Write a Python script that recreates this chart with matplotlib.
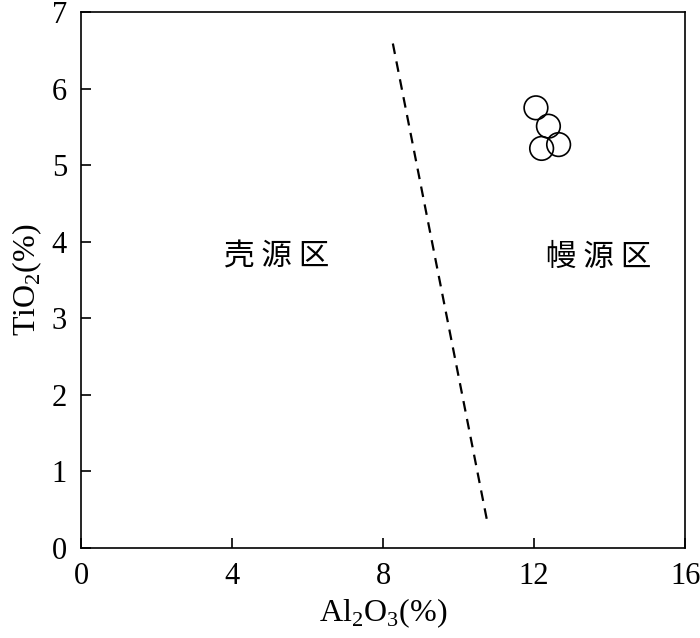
import matplotlib
matplotlib.use("Agg")
import matplotlib.pyplot as plt

plt.rcParams['font.family'] = ['Liberation Serif', 'Noto Sans CJK SC']
plt.rcParams['mathtext.fontset'] = 'custom'
plt.rcParams['mathtext.rm'] = 'Liberation Serif'

# sample points
al2o3 = [12.05, 12.38, 12.2, 12.65]
tio2 = [5.75, 5.51, 5.22, 5.27]

# dividing line between crust and mantle source fields
line_x = [8.26, 10.75]
line_y = [6.59, 0.37]

field_labels = ['壳 源 区', '幔 源 区']
field_x = [5.17, 13.7]
field_y = [3.8, 3.8]

fig = plt.figure(figsize=(7, 6.38), dpi=100)
ax = fig.add_axes([0.1157, 0.141, 0.863, 0.84])

ax.plot(line_x, line_y, color='black', lw=1.6, ls=(0, (4.8, 3.4)))
ax.scatter(al2o3, tio2, s=290, facecolors='none', edgecolors='black', linewidths=1.2, zorder=3)

for lab, x, y in zip(field_labels, field_x, field_y):
    ax.text(x, y, lab, fontsize=22, ha='center', va='center',
            family=['Noto Sans CJK SC'])

ax.set_xlim(0, 16)
ax.set_ylim(0, 7)
ax.set_xticks([0, 4, 8, 12, 16])
ax.set_yticks(range(8))
ax.tick_params(direction='in', length=7, width=1.2, labelsize=22, pad=10)
for s in ax.spines.values():
    s.set_linewidth(1.2)

ax.set_xlabel('Al$_2$O$_3$(%)', fontsize=23, labelpad=4)
ax.set_ylabel('TiO$_2$(%)', fontsize=23, labelpad=6)

fig.savefig('out.png', dpi=100)
